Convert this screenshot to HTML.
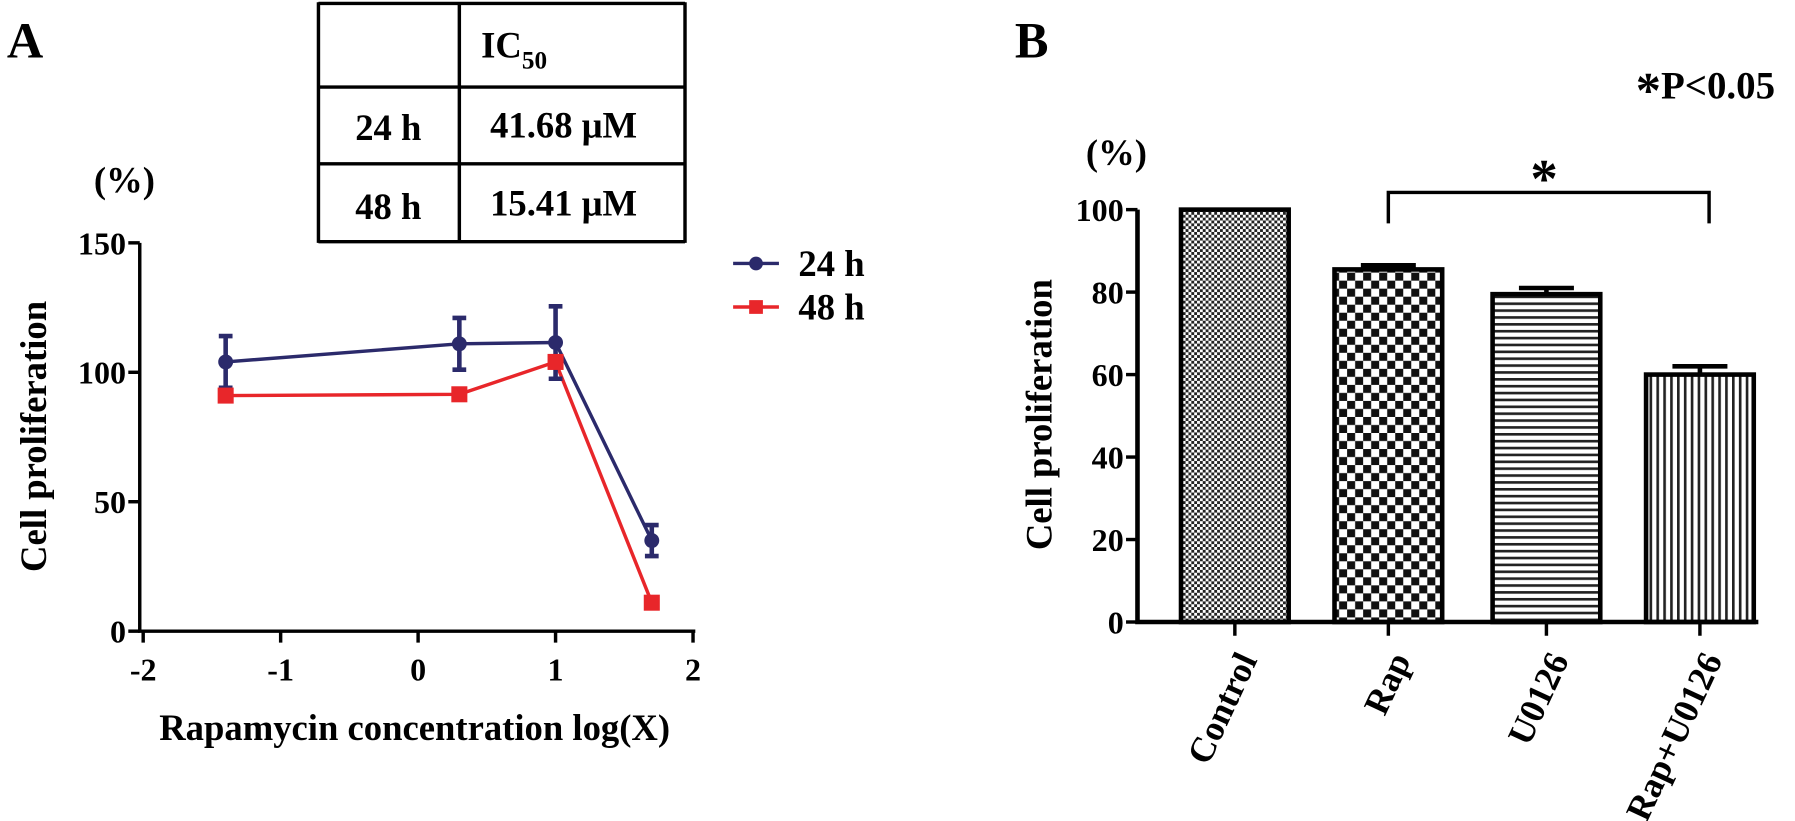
<!DOCTYPE html>
<html><head><meta charset="utf-8"><style>
html,body{margin:0;padding:0;background:#fff;width:1795px;height:821px;overflow:hidden}
svg text{font-family:"Liberation Serif",serif;font-weight:bold;fill:#000}
</style></head><body>
<svg id="chart" width="1795" height="821" viewBox="0 0 1795 821" xmlns="http://www.w3.org/2000/svg" font-family="Liberation Serif, serif" font-weight="bold">
<defs>
<pattern id="pFine" width="5" height="5" patternUnits="userSpaceOnUse"><rect width="5" height="5" fill="#fff"/><rect width="2.5" height="2.5" fill="#222"/><rect x="2.5" y="2.5" width="2.5" height="2.5" fill="#222"/></pattern>
<pattern id="pCheck" width="14" height="14" patternUnits="userSpaceOnUse"><rect width="14" height="14" fill="#fff"/><rect width="7" height="7" fill="#111"/><rect x="7" y="7" width="7" height="7" fill="#111"/></pattern>
<pattern id="pHoriz" width="6" height="6" patternUnits="userSpaceOnUse"><rect width="6" height="6" fill="#fff"/><rect width="6" height="2.3" fill="#222"/></pattern>
<pattern id="pVert" width="6" height="6" patternUnits="userSpaceOnUse"><rect width="6" height="6" fill="#fff"/><rect width="2.3" height="6" fill="#222"/></pattern>
</defs>
<g id="root" transform="scale(1.1455)">
<text x="6" y="50" font-size="44">A</text>
<text x="886" y="50" font-size="44">B</text>
<g stroke="#000" stroke-width="3" fill="none">
<line x1="278" y1="2" x2="278" y2="212"/><line x1="401" y1="2" x2="401" y2="212"/><line x1="598" y1="2" x2="598" y2="212"/>
<line x1="278" y1="3" x2="598" y2="3"/>
<line x1="278" y1="76" x2="598" y2="76"/><line x1="278" y1="143" x2="598" y2="143"/><line x1="278" y1="211" x2="598" y2="211"/>
</g>
<text x="420" y="50" font-size="32">IC<tspan font-size="22" dy="10">50</tspan></text>
<text x="339" y="122" text-anchor="middle" font-size="32">24 h</text>
<text x="492" y="120" text-anchor="middle" font-size="32">41.68 μM</text>
<text x="339" y="191" text-anchor="middle" font-size="32">48 h</text>
<text x="492" y="188" text-anchor="middle" font-size="32">15.41 μM</text>
<text x="82" y="168" font-size="32">(%)</text>
<text transform="translate(40,381) rotate(-90)" text-anchor="middle" font-size="32">Cell proliferation</text>
<text x="362" y="646" text-anchor="middle" font-size="32">Rapamycin concentration log(X)</text>
<g id="gA"></g>
<g>
<line x1="640" y1="230" x2="680" y2="230" stroke="#2b2a6b" stroke-width="3"/><circle cx="660" cy="230" r="6" fill="#2b2a6b"/>
<text x="697" y="241" font-size="32">24 h</text>
<line x1="640" y1="268" x2="680" y2="268" stroke="#e8262a" stroke-width="3"/><rect x="654" y="262" width="12" height="12" fill="#e8262a"/>
<text x="697" y="279" font-size="32">48 h</text>
</g>
<text x="948" y="144" font-size="32">(%)</text>
<text transform="translate(918,362) rotate(-90)" text-anchor="middle" font-size="32">Cell proliferation</text>
<text x="1428" y="86" font-size="34"><tspan font-size="44" dy="8">*</tspan><tspan dy="-8">P&lt;0.05</tspan></text>
<g id="gB"></g>
</g>
</svg>
<script>
const ns="http://www.w3.org/2000/svg";
function mk(p,t,a){const e=document.createElementNS(ns,t);for(const k in a)e.setAttribute(k,a[k]);p.appendChild(e);return e;}
// Panel A data
const xLog=[-1.4,0.3,1.0,1.7];
const v24=[104,111,111.5,35];
const e24=[10,10,14,6];
const v48=[91,91.5,104,11];
const xTicksA=[-2,-1,0,1,2];
const yTicksA=[0,50,100,150];
// Panel B data
const cats=["Control","Rap","U0126","Rap+U0126"];
const vals=[100,85.5,79.5,60];
const errs=[0,1,1.5,2];
const yTicksB=[0,20,40,60,80,100];

const gA=document.getElementById('gA');
const xA=v=>365+v*120, yA=v=>551-v*113/50;
let ax=mk(gA,'path',{d:`M122,${yA(150)} V551 H607`,stroke:'#000','stroke-width':3,fill:'none'});


yTicksA.forEach(t=>{mk(gA,'line',{x1:112,x2:122,y1:yA(t),y2:yA(t),stroke:'#000','stroke-width':3});
const tx=mk(gA,'text',{x:110,y:yA(t)+10,'text-anchor':'end','font-size':28});tx.textContent=t;

});
xTicksA.forEach(t=>{mk(gA,'line',{x1:xA(t),x2:xA(t),y1:551,y2:561,stroke:'#000','stroke-width':3});
const tx=mk(gA,'text',{x:xA(t),y:594,'text-anchor':'middle','font-size':28});tx.textContent=t;

});
const blue='#2b2a6b',red='#e8262a';
let l48=mk(gA,'polyline',{points:xLog.map((x,i)=>xA(x)+','+yA(v48[i])).join(' '),stroke:red,'stroke-width':3,fill:'none'});


let l24=mk(gA,'polyline',{points:xLog.map((x,i)=>xA(x)+','+yA(v24[i])).join(' '),stroke:blue,'stroke-width':3,fill:'none'});


xLog.forEach((x,i)=>{
const cx=xA(x);
const eb=mk(gA,'path',{d:`M${cx},${yA(v24[i]+e24[i])}V${yA(v24[i]-e24[i])}M${cx-6},${yA(v24[i]+e24[i])}H${cx+6}M${cx-6},${yA(v24[i]-e24[i])}H${cx+6}`,stroke:blue,'stroke-width':4,fill:'none'});


const c=mk(gA,'circle',{cx:cx,cy:yA(v24[i]),r:6.5,fill:blue});


const s=mk(gA,'rect',{x:cx-7,y:yA(v48[i])-7,width:14,height:14,fill:red});


});

const gB=document.getElementById('gB');
const yB=v=>543-v*3.6;
const centers=[1078,1212,1350,1484];
const pats=['pFine','pCheck','pHoriz','pVert'];
cats.forEach((c,i)=>{
const cx=centers[i],w=94;
const r=mk(gB,'rect',{x:cx-w/2,y:yB(vals[i]),width:w,height:543-yB(vals[i]),fill:`url(#${pats[i]})`,stroke:'#000','stroke-width':4});


if(errs[i]>0){const e=mk(gB,'path',{d:`M${cx},${yB(vals[i])}V${yB(vals[i]+errs[i])}M${cx-24},${yB(vals[i]+errs[i])}H${cx+24}`,stroke:'#000','stroke-width':4,fill:'none'});

}
mk(gB,'line',{x1:cx,x2:cx,y1:543,y2:555,stroke:'#000','stroke-width':3});
const t=mk(gB,'text',{transform:`translate(${cx+20},576) rotate(-65)`,'text-anchor':'end','font-size':31});t.textContent=c;


});
let axb=mk(gB,'path',{d:`M993,${yB(100)} V543 H1535`,stroke:'#000','stroke-width':4,fill:'none'});


yTicksB.forEach(t=>{mk(gB,'line',{x1:983,x2:993,y1:yB(t),y2:yB(t),stroke:'#000','stroke-width':3});
const tx=mk(gB,'text',{x:981,y:yB(t)+10,'text-anchor':'end','font-size':28});tx.textContent=t;

});
let br=mk(gB,'path',{d:'M1212,195 V168 H1492 V195',stroke:'#000','stroke-width':3,fill:'none'});


let st=mk(gB,'text',{x:1348,y:172,'text-anchor':'middle','font-size':48});st.textContent='*';


</script>
</body></html>
